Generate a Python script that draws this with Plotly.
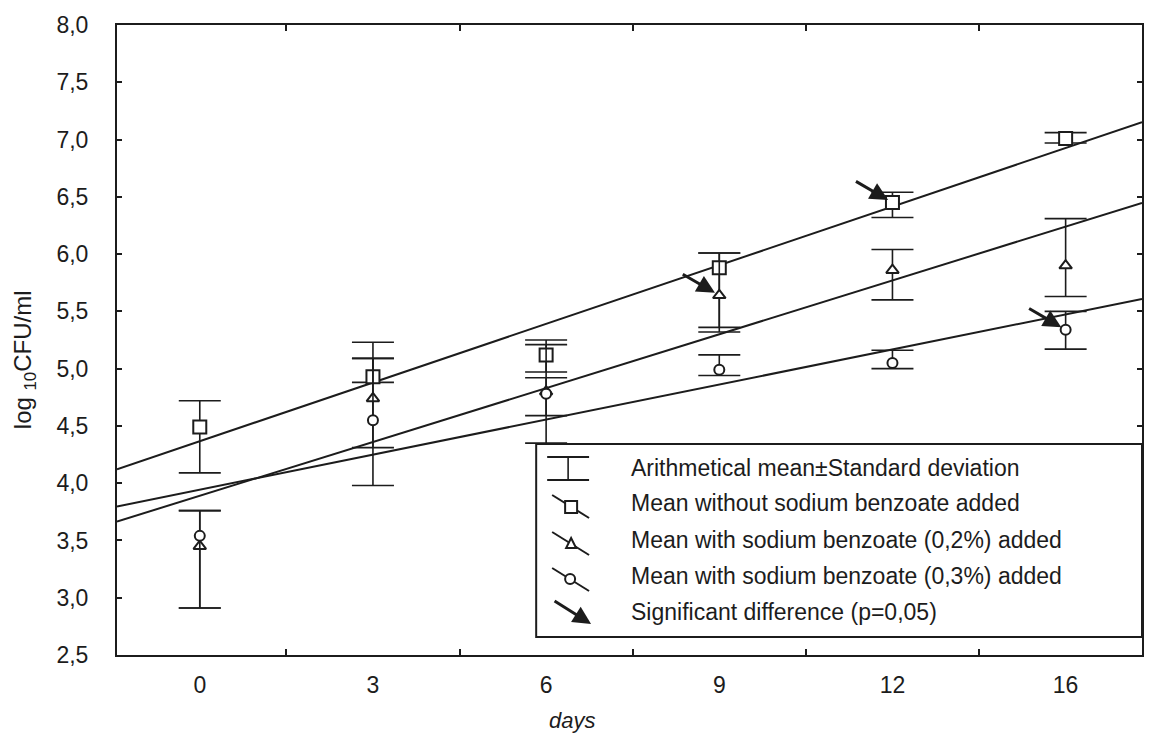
import numpy as np
import plotly.graph_objects as go

# ---------------- data ----------------
days = ["0", "3", "6", "9", "12", "16"]

mean_none = [4.49, 4.93, 5.12, 5.88, 6.45, 7.01]
upper_none = [4.72, 5.23, 5.25, 6.01, 6.54, 7.06]
lower_none = [4.09, 4.88, 4.97, 5.36, 6.32, 6.97]

mean_02 = [3.45, 4.74, 4.80, 5.64, 5.86, 5.90]
upper_02 = [3.76, 5.09, 5.21, 6.01, 6.04, 6.31]
lower_02 = [2.91, 4.31, 4.35, 5.32, 5.60, 5.63]

mean_03 = [3.54, 4.55, 4.78, 4.99, 5.05, 5.34]
upper_03 = [3.76, 5.09, 4.92, 5.12, 5.16, 5.50]
lower_03 = [2.91, 3.98, 4.59, 4.94, 5.00, 5.17]

sig_days = ["9", "12", "16"]
sig_series = ["0.2", "none", "0.3"]

y_ticks = [2.5, 3.0, 3.5, 4.0, 4.5, 5.0, 5.5, 6.0, 6.5, 7.0, 7.5, 8.0]

legend_labels = [
    "Arithmetical mean\u00b1Standard deviation",
    "Mean without sodium benzoate added",
    "Mean with sodium benzoate (0,2%) added",
    "Mean with sodium benzoate (0,3%) added",
    "Significant difference (p=0,05)",
]

# ---------------- layout geometry ----------------
# the page body adds an 8 px margin, so the figure is sized to fit inside
OFF = 8
FW, FH = 1152 - 2 * OFF, 743 - 2 * OFF
# plot area in screen pixels
L, R, T, B = 117, 1144, 25, 655
X_RANGE = [-0.478, 5.441]
Y_RANGE = [2.5, 8.0]
INK = "#1c1c1c"
FONT = "Liberation Sans, Arial, sans-serif"


def px(x):
    return (x - L) / (R - L)


def py(y):
    return (B - y) / (B - T)


idx = np.arange(len(days))
series = {
    "none": (mean_none, upper_none, lower_none, "square", 13),
    "0.2": (mean_02, upper_02, lower_02, "triangle-up", 11),
    "0.3": (mean_03, upper_03, lower_03, "circle", 10),
}

fig = go.Figure()

# regression lines (linear fit of the means against the day position)
for key in ["none", "0.2", "0.3"]:
    m = np.array(series[key][0])
    slope, icpt = np.polyfit(idx, m, 1)
    xs = np.array(X_RANGE)
    fig.add_trace(go.Scatter(x=xs, y=icpt + slope * xs, mode="lines",
                             line=dict(color=INK, width=2), showlegend=False,
                             hoverinfo="skip"))

# means with error bars
for key in ["none", "0.2", "0.3"]:
    m, up, lo, sym, size = series[key]
    m = np.array(m)
    fig.add_trace(go.Scatter(
        x=idx, y=m, mode="markers", showlegend=False,
        marker=dict(symbol=sym, size=size, color="white",
                    line=dict(color=INK, width=2)),
        error_y=dict(type="data", symmetric=False,
                     array=np.array(up) - m, arrayminus=m - np.array(lo),
                     color=INK, thickness=1.6, width=21),
    ))

annotations = []
shapes = []

# significance arrows
for d, s in zip(sig_days, sig_series):
    i = days.index(d)
    yv = series[s][0][i]
    annotations.append(dict(
        x=i, y=yv, xref="x", yref="y", text="", showarrow=True,
        ax=-38, ay=-22, arrowhead=2, arrowsize=1.2, arrowwidth=3,
        arrowcolor=INK, standoff=5))

# legend box
shapes.append(dict(type="rect", xref="paper", yref="paper",
                   x0=px(537), x1=1.0, y0=py(637), y1=py(444),
                   line=dict(color=INK, width=2), fillcolor="white",
                   layer="above"))

row_y = [468, 503, 540, 576, 612]
for lab, ry in zip(legend_labels, row_y):
    annotations.append(dict(x=px(630), y=py(ry), xref="paper", yref="paper",
                            text=lab, showarrow=False, xanchor="left",
                            yanchor="middle",
                            font=dict(family=FONT, size=23, color=INK)))


def seg(x0, y0, x1, y1, w=2):
    return dict(type="line", xref="paper", yref="paper",
                x0=px(x0), y0=py(y0), x1=px(x1), y1=py(y1),
                line=dict(color=INK, width=w), layer="above")


# error bar icon
shapes += [seg(569, 457, 569, 480, 1.6), seg(548, 457, 590, 457),
           seg(548, 480, 590, 480)]
# line + square
shapes.append(seg(553, row_y[1] - 8, 590, row_y[1] + 15))
shapes.append(dict(type="rect", xref="paper", yref="paper",
                   x0=px(566), x1=px(578), y0=py(row_y[1] + 10),
                   y1=py(row_y[1] - 2), line=dict(color=INK, width=2),
                   fillcolor="white", layer="above"))
# line + triangle
shapes.append(seg(553, row_y[2] - 8, 590, row_y[2] + 15))
tx, ty = 572, row_y[2] + 3
shapes.append(dict(type="path", xref="paper", yref="paper",
                   path=(f"M {px(tx-5)} {py(ty+5)} L {px(tx+5)} {py(ty+5)} "
                         f"L {px(tx)} {py(ty-5)} Z"),
                   line=dict(color=INK, width=2), fillcolor="white",
                   layer="above"))
# line + circle
shapes.append(seg(553, row_y[3] - 8, 590, row_y[3] + 15))
shapes.append(dict(type="circle", xref="paper", yref="paper",
                   x0=px(566), x1=px(576), y0=py(row_y[3] + 8),
                   y1=py(row_y[3] - 2), line=dict(color=INK, width=2),
                   fillcolor="white", layer="above"))
# arrow icon
annotations.append(dict(x=px(592), y=py(624), xref="paper", yref="paper",
                        text="", showarrow=True, ax=-38, ay=-24,
                        arrowhead=2, arrowsize=1.2, arrowwidth=3,
                        arrowcolor=INK))

# axis titles
annotations.append(dict(x=px(24), y=py(360), xref="paper", yref="paper",
                        text="log <sub>10</sub>CFU/ml", showarrow=False,
                        textangle=-90, xanchor="center", yanchor="middle",
                        font=dict(family=FONT, size=24, color=INK)))
annotations.append(dict(x=px(573), y=py(720), xref="paper", yref="paper",
                        text="<i>days</i>", showarrow=False,
                        xanchor="center", yanchor="middle",
                        font=dict(family=FONT, size=22, color=INK)))

fig.update_layout(
    width=FW, height=FH,
    margin=dict(l=L - OFF, r=FW - (R - OFF), t=T - OFF, b=FH - (B - OFF)),
    paper_bgcolor="white", plot_bgcolor="white",
    separators=", ",
    font=dict(family=FONT, size=23, color=INK),
    showlegend=False,
    shapes=shapes, annotations=annotations,
    xaxis=dict(range=X_RANGE, tickmode="array", tickvals=list(idx),
               ticktext=days, ticks="inside", ticklen=0, showgrid=False,
               zeroline=False, showline=True, linecolor=INK, linewidth=2,
               mirror="allticks", ticklabelstandoff=8,
               minor=dict(tickmode="array",
                          tickvals=[k + 0.5 for k in range(len(days) - 1)],
                          ticks="inside", ticklen=6, tickwidth=1.5,
                          tickcolor=INK, showgrid=False)),
    yaxis=dict(range=Y_RANGE, tickmode="array", tickvals=y_ticks,
               tickformat=".1f", ticks="inside", ticklen=5, tickwidth=1.5,
               tickcolor=INK, showgrid=False, zeroline=False, showline=True,
               linecolor=INK, linewidth=2, mirror="allticks",
               ticklabelstandoff=22),
)

fig.write_html("out.html")
